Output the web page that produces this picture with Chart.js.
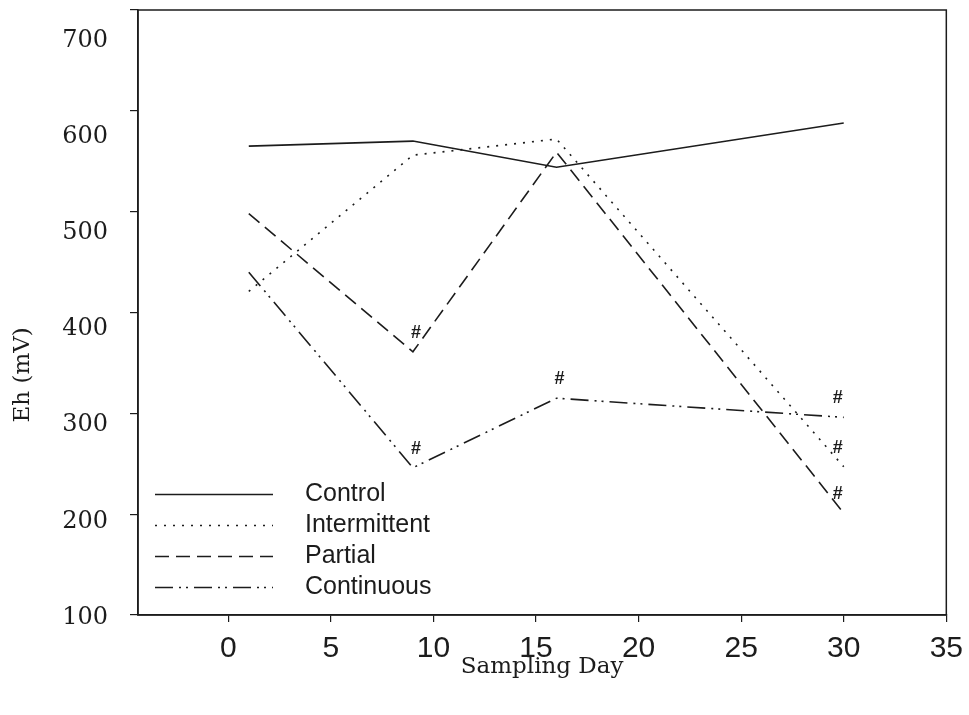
<!DOCTYPE html>
<html>
<head>
<meta charset="utf-8">
<title>Eh by sampling day</title>
<script src="https://cdn.jsdelivr.net/npm/chart.js@4.4.1/dist/chart.umd.min.js"></script>
<style>
  html, body { margin: 0; padding: 0; background: #fff; }
  canvas { display: block; }
</style>
</head>
<body>
<canvas id="ehChart" width="969" height="715"></canvas>
<script>
// Redox potential (mV) per treatment, sampled on days 1, 9, 16 and 30
const days = [1, 9, 16, 30];
const control = [565, 570, 544, 588];
const intermittent = [421, 556, 572, 247];
const partial = [498, 361, 559, 201];
const continuous = [440, 246, 315, 296];

const xTicks = [0, 5, 10, 15, 20, 25, 30, 35];
const yTicks = [100, 200, 300, 400, 500, 600, 700];

// '#' = significantly different from control on that day
const sigMarks = [
    ['Partial', 9], ['Continuous', 9], ['Continuous', 16],
    ['Continuous', 30], ['Intermittent', 30], ['Partial', 30]
];

const INK = '#1c1c1c';
const SANS = '"Liberation Sans", Arial, sans-serif';
const SERIF = '"DejaVu Serif", serif';

const series = [
    { label: 'Control', values: control, dash: [] },
    { label: 'Intermittent', values: intermittent, dash: [2, 7] },
    { label: 'Partial', values: partial, dash: [14, 7] },
    { label: 'Continuous', values: continuous, dash: [18, 6, 2, 5, 2, 6] }
];

const fixedTicks = (values) => (axis) => {
    axis.ticks = values.map((value) => ({ value }));
};
const fixedWidth = (w) => (axis) => {
    axis.width = w;
};
const fixedHeight = (h) => (axis) => {
    axis.height = h;
};

/* ── plot frame (top + right edges) ─────────────────────────── */
const frame = {
    id: 'frame',
    beforeDatasetsDraw(chart) {
        const { ctx, chartArea: a } = chart;
        ctx.save();
        ctx.strokeStyle = INK;
        ctx.lineWidth = 1.5;
        ctx.strokeRect(a.left, a.top, a.right - a.left, a.bottom - a.top);
        ctx.restore();
    }
};

/* ── legend in the lower left corner of the plot ────────────── */
const legendBox = {
    id: 'legendBox',
    afterDatasetsDraw(chart) {
        const { ctx, chartArea: a } = chart;
        ctx.save();
        ctx.font = `25px ${SANS}`;
        ctx.fillStyle = INK;
        ctx.textBaseline = 'middle';
        chart.data.datasets.forEach((ds, i) => {
            const y = a.bottom - 120.5 + i * 31;
            ctx.strokeStyle = ds.borderColor;
            ctx.lineWidth = ds.borderWidth;
            ctx.setLineDash(ds.borderDash);
            ctx.beginPath();
            ctx.moveTo(a.left + 17, y);
            ctx.lineTo(a.left + 135, y);
            ctx.stroke();
            ctx.fillText(ds.label, a.left + 167, y);
        });
        ctx.restore();
    }
};

/* ── '#' above the flagged points ───────────────────────────── */
const sigLabels = {
    id: 'sigLabels',
    afterDatasetsDraw(chart) {
        const { ctx } = chart;
        ctx.save();
        ctx.font = `bold 18px ${SANS}`;
        ctx.fillStyle = INK;
        ctx.textAlign = 'center';
        ctx.textBaseline = 'middle';
        sigMarks.forEach(([label, day]) => {
            const di = chart.data.datasets.findIndex((ds) => ds.label === label);
            const pi = days.indexOf(day);
            const pt = chart.getDatasetMeta(di).data[pi];
            const last = pi === days.length - 1;
            ctx.fillText('#', pt.x + (last ? -6 : 3), pt.y - 19);
        });
        ctx.restore();
    }
};

/* ── rotated y title, sits a bit below the middle ───────────── */
const yTitle = {
    id: 'yTitle',
    afterDraw(chart) {
        const { ctx, chartArea: a } = chart;
        ctx.save();
        ctx.translate(23, a.top + (a.bottom - a.top) * 0.603);
        ctx.rotate(-Math.PI / 2);
        ctx.font = `23px ${SERIF}`;
        ctx.fillStyle = INK;
        ctx.textAlign = 'center';
        ctx.textBaseline = 'middle';
        ctx.fillText('Eh (mV)', 0, 0);
        ctx.restore();
    }
};

new Chart(document.getElementById('ehChart').getContext('2d'), {
    type: 'line',
    data: {
        datasets: series.map((s) => ({
            label: s.label,
            data: days.map((d, i) => ({ x: d, y: s.values[i] })),
            borderColor: INK,
            borderWidth: 1.6,
            borderDash: s.dash,
            pointRadius: 0,
            tension: 0,
            fill: false
        }))
    },
    options: {
        responsive: false,
        animation: false,
        events: [],
        layout: { padding: { left: 60, right: 22, top: 10, bottom: 34 } },
        plugins: { legend: { display: false }, tooltip: { enabled: false } },
        scales: {
            x: {
                type: 'linear',
                min: -4.4,
                max: 35,
                afterBuildTicks: fixedTicks(xTicks),
                afterFit: fixedHeight(66),
                grid: { drawOnChartArea: false, tickLength: 7, color: INK, lineWidth: 1.2 },
                border: { color: INK, width: 1.5 },
                ticks: {
                    autoSkip: false,
                    maxRotation: 0,
                    padding: 6,
                    color: INK,
                    font: { family: SANS, size: 30, lineHeight: 1.4 }
                },
                title: {
                    display: true,
                    text: 'Sampling Day',
                    color: INK,
                    font: { family: SERIF, size: 23 },
                    padding: 0
                }
            },
            // tick marks plus the gap to the labels
            y: {
                type: 'linear',
                position: 'left',
                weight: 0,
                min: 100,
                max: 700,
                afterBuildTicks: fixedTicks(yTicks),
                afterFit: fixedWidth(30),
                grid: { drawOnChartArea: false, tickLength: 8, color: INK, lineWidth: 1.2 },
                border: { color: INK, width: 1.5 },
                ticks: { display: false }
            },
            // tick labels only, on their own slightly compressed scale
            yLab: {
                type: 'linear',
                position: 'left',
                weight: 1,
                min: 100,
                max: 729.3,
                afterBuildTicks: fixedTicks(yTicks),
                afterFit: fixedWidth(48),
                grid: { display: false, drawTicks: false, tickLength: 0 },
                border: { display: false },
                ticks: {
                    padding: 0,
                    labelOffset: 2.5,
                    color: INK,
                    font: { family: SERIF, size: 24, lineHeight: 0.8 }
                }
            }
        }
    },
    plugins: [frame, legendBox, sigLabels, yTitle]
});
</script>
</body>
</html>
